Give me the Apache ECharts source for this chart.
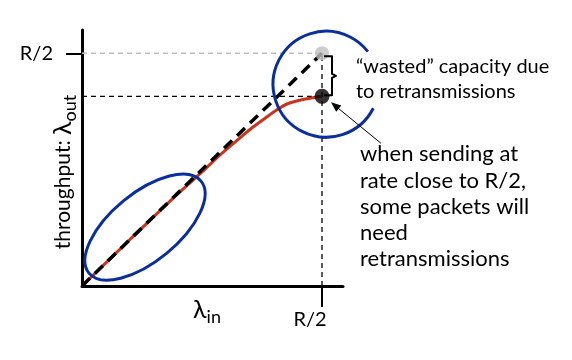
<!DOCTYPE html>
<html><head><meta charset="utf-8">
<script src="https://cdn.jsdelivr.net/npm/echarts@6/dist/echarts.min.js"></script>
<style>html,body{margin:0;padding:0;background:#fff}#c{width:572px;height:360px}</style>
</head><body><div id="c"></div>
<script>
// ---- data (units: R/2 = 1) ----
const tickValues = [1];
const tickLabels = ['R/2'];
const idealLine = [[0, 0], [1, 1]];
const throughputCurve = [[0, 0], [0.2, 0.2], [0.4, 0.397], [0.5, 0.49], [0.575, 0.563], [0.646, 0.626], [0.7125, 0.683], [0.771, 0.727], [0.8125, 0.757], [0.854, 0.782], [0.921, 0.801], [0.983, 0.813], [1, 0.815]];
const capacityPoint = [1, 1];
const actualPoint = [1, 0.815];
const wastedText = ['\u201cwasted\u201d capacity due', 'to retransmissions'];
const noteText = ['when sending at', 'rate close to R/2,', 'some packets will', 'need', 'retransmissions'];
const circleCenter = [1.017, 0.867];
const ellipseCenter = [0.2625, 0.253];

const FONT = 'Lato';
const BLUE = '#0b2e9e';
const chart = echarts.init(document.getElementById('c'), null, {renderer: 'canvas'});

const dashed = (data, color, width, dash) => ({
  type: 'line', data, symbol: 'none', silent: true, animation: false,
  lineStyle: {color, width, type: dash}
});

chart.setOption({
  animation: false,
  grid: {left: 82, top: 30, width: 261, height: 256},
  xAxis: {
    type: 'value', min: 0, max: 1.0875,
    splitLine: {show: false},
    axisLine: {lineStyle: {color: '#000', width: 3}},
    axisTick: {show: true, customValues: tickValues, length: 21, lineStyle: {color: '#000', width: 2}},
    axisLabel: {show: true, customValues: tickValues, formatter: v => tickLabels[tickValues.indexOf(v)] || '',
      fontFamily: FONT, fontSize: 20, color: '#000', margin: 24, padding: [0, 24, 0, 0]}
  },
  yAxis: {
    type: 'value', min: 0, max: 1.1,
    splitLine: {show: false},
    axisLine: {lineStyle: {color: '#000', width: 3}},
    axisTick: {show: true, customValues: tickValues, length: 16, lineStyle: {color: '#000', width: 2}},
    axisLabel: {show: true, customValues: tickValues, formatter: v => tickLabels[tickValues.indexOf(v)] || '',
      fontFamily: FONT, fontSize: 20, color: '#000', margin: 29}
  },
  series: [
    dashed([[0, capacityPoint[1]], capacityPoint], '#bdbdbd', 1.5, [5, 4]),
    dashed([[0, actualPoint[1]], actualPoint], '#000', 1.3, [5, 4]),
    dashed([[actualPoint[0], 0], capacityPoint], '#000', 1.3, [5, 4]),
    {type: 'line', data: throughputCurve, symbol: 'none', smooth: 0.25, animation: false,
      lineStyle: {color: '#c9341f', width: 3}},
    dashed(idealLine, '#000', 3.5, [11, 7]),
    {type: 'scatter', data: [capacityPoint], symbolSize: 14, itemStyle: {color: '#bfbfbf'}, z: 5},
    {type: 'scatter', data: [actualPoint], symbolSize: 15, itemStyle: {color: '#000'}, z: 5}
  ]
});

const px = p => chart.convertToPixel({gridIndex: 0}, p);
const cc = px(circleCenter), ec = px(ellipseCenter), ap = px(actualPoint), cp = px(capacityPoint);
const deg = Math.PI / 180;
// arrow
const aStart = [ap[0] + 59, ap[1] + 47], aEnd = [ap[0] + 9, ap[1] + 6];
const ang = Math.atan2(aEnd[1] - aStart[1], aEnd[0] - aStart[0]);
const hl = 10, hw = 4;
const head = [aEnd,
  [aEnd[0] - hl * Math.cos(ang) + hw * Math.sin(ang), aEnd[1] - hl * Math.sin(ang) - hw * Math.cos(ang)],
  [aEnd[0] - hl * Math.cos(ang) - hw * Math.sin(ang), aEnd[1] - hl * Math.sin(ang) + hw * Math.cos(ang)]];
const bx = cp[0] + 10, bt = cp[1] + 3, bb = ap[1] - 1, bm = (bt + bb) / 2;

chart.setOption({
  graphic: [
    {type: 'arc', shape: {cx: cc[0], cy: cc[1], r: 53, startAngle: 27 * deg, endAngle: 322 * deg, clockwise: true},
      style: {stroke: BLUE, lineWidth: 3, fill: null}, z: 100},
    {type: 'ellipse', x: ec[0], y: ec[1], rotation: 39.4 * deg, shape: {cx: 0, cy: 0, rx: 72.5, ry: 34},
      style: {stroke: BLUE, lineWidth: 3, fill: null}, z: 100},
    {type: 'polyline', shape: {points: [[bx - 8, bt], [bx, bt], [bx, bm - 2], [bx + 4, bm], [bx, bm + 2], [bx, bb], [bx - 8, bb]]},
      style: {stroke: '#000', lineWidth: 2, fill: null, lineJoin: 'round'}, z: 100},
    {type: 'line', shape: {x1: aStart[0], y1: aStart[1], x2: aEnd[0] - 6 * Math.cos(ang), y2: aEnd[1] - 6 * Math.sin(ang)},
      style: {stroke: '#000', lineWidth: 1}, z: 100},
    {type: 'polygon', shape: {points: head}, style: {fill: '#000'}, z: 100},
    {type: 'text', x: 356, y: 54.5, style: {text: wastedText.join('\n'), font: '20px Lato', fill: '#000', lineHeight: 25, verticalAlign: 'top'}, z: 100},
    {type: 'text', x: 360, y: 141, style: {text: noteText.join('\n'), font: '22px Lato', fill: '#000', lineHeight: 26.3, verticalAlign: 'top'}, z: 100},
    {type: 'text', x: 207, y: 310, style: {text: '{l|\u03bb}{s|in}', align: 'center', verticalAlign: 'middle',
      rich: {l: {fontFamily: FONT, fontSize: 25, fill: '#000'}, s: {fontFamily: FONT, fontSize: 18, fill: '#000', padding: [14, 0, 0, 0]}}}, z: 100},
    {type: 'text', x: 63, y: 172, rotation: 90 * deg, style: {text: '{a|throughput: }{l|\u03bb}{s|out}', align: 'center', verticalAlign: 'middle',
      rich: {a: {fontFamily: FONT, fontSize: 21, fill: '#000'}, l: {fontFamily: FONT, fontSize: 25, fill: '#000'}, s: {fontFamily: FONT, fontSize: 18, fill: '#000', padding: [14, 0, 0, 0]}}}, z: 100}
  ]
});
</script></body></html>
